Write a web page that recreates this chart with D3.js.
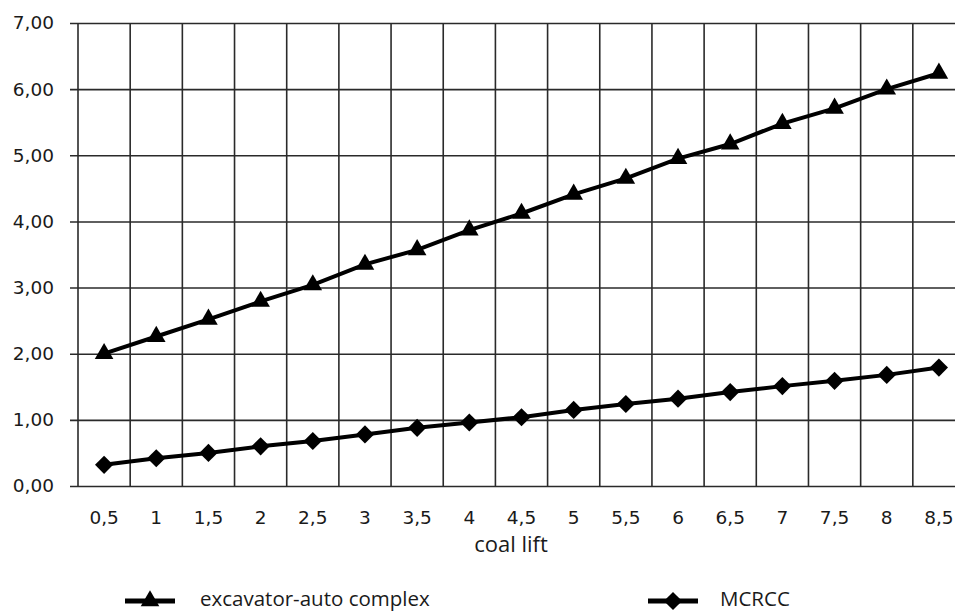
<!DOCTYPE html>
<html>
<head>
<meta charset="utf-8">
<script src="https://cdn.jsdelivr.net/npm/d3@7/dist/d3.min.js"></script>
<style>
html,body{margin:0;padding:0;background:#fff;overflow:hidden;}
svg{display:block;}
</style>
</head>
<body>
<svg id="chart" width="955" height="613"></svg>
<script>
const categories = ["0,5","1","1,5","2","2,5","3","3,5","4","4,5","5","5,5","6","6,5","7","7,5","8","8,5"];
const excavatorAuto = [2.00,2.26,2.52,2.79,3.04,3.35,3.57,3.87,4.12,4.41,4.65,4.95,5.17,5.48,5.71,6.00,6.24];
const mcrcc = [0.32,0.42,0.50,0.60,0.68,0.78,0.88,0.96,1.04,1.15,1.24,1.32,1.42,1.51,1.59,1.68,1.79];
const yTicks = [0,1,2,3,4,5,6,7];
const seriesNames = ["excavator-auto complex","MCRCC"];
const xTitle = "coal lift";

(function(){
const svg = d3.select("#chart");
const pL = 78, pR = 965, pT = 23, pB = 486;
const x = d3.scaleBand().domain(categories).range([pL, pR]).paddingInner(0).paddingOuter(0);
const y = d3.scaleLinear().domain([0,7]).range([pB, pT]);
const cx = c => x(c) + x.bandwidth()/2;
const gridColor = "#2a2a2a";
const tickFont = "'DejaVu Sans', Verdana, sans-serif";
const textFont = "'Open Sans', Calibri, sans-serif";

// horizontal grid + y axis ticks
const yAxis = d3.axisLeft(y).tickValues(yTicks).tickSize(8).tickPadding(16)
  .tickFormat(d => d3.format(".2f")(d).replace(".", ","));
const gy = svg.append("g").attr("transform", `translate(${pL},0)`).call(yAxis);
gy.select(".domain").remove();
gy.selectAll(".tick line").attr("stroke", gridColor).attr("stroke-width", 1.6).attr("x1", -8).attr("x2", pR-pL);
gy.selectAll(".tick text").attr("font-family", tickFont).attr("font-size", 18.5).attr("fill", "#1a1a1a");

// vertical grid lines at band boundaries
const xBounds = categories.map(c => x(c)).concat([pR]);
svg.append("g").selectAll("line").data(xBounds).join("line")
  .attr("x1", d => d).attr("x2", d => d).attr("y1", pT).attr("y2", pB)
  .attr("stroke", gridColor).attr("stroke-width", 1.6);

// x axis labels
const xAxis = d3.axisBottom(x).tickSize(0).tickPadding(25);
const gx = svg.append("g").attr("transform", `translate(0,${pB})`).call(xAxis);
gx.select(".domain").remove();
gx.selectAll(".tick text").attr("font-family", tickFont).attr("font-size", 18.5).attr("fill", "#1a1a1a");

svg.append("text").attr("x", 511).attr("y", 552).attr("text-anchor", "middle")
  .attr("font-family", textFont).attr("font-size", 22).attr("fill", "#1a1a1a").text(xTitle);

// lines
const line = d3.line().x((d,i) => cx(categories[i])).y(d => y(d));
svg.append("path").datum(excavatorAuto).attr("d", line).attr("fill","none").attr("stroke","#000").attr("stroke-width",4);
svg.append("path").datum(mcrcc).attr("d", line).attr("fill","none").attr("stroke","#000").attr("stroke-width",4);

const tri = d3.symbol().type(d3.symbolTriangle).size(150);
const dia = d3.symbol().type(d3.symbolSquare).size(165);

svg.append("g").selectAll("path").data(excavatorAuto).join("path")
  .attr("d", tri).attr("fill", "#000")
  .attr("transform", (d,i) => `translate(${cx(categories[i])},${y(d)})`);
svg.append("g").selectAll("path").data(mcrcc).join("path")
  .attr("d", dia).attr("fill", "#000")
  .attr("transform", (d,i) => `translate(${cx(categories[i])},${y(d)}) rotate(45)`);

// legend
const legend = [
  {name: seriesNames[0], x1: 125, sym: tri, rot: 0, tx: 200},
  {name: seriesNames[1], x1: 648, sym: dia, rot: 45, tx: 720}
];
const ly = 601;
legend.forEach(l => {
  svg.append("line").attr("x1", l.x1).attr("x2", l.x1+50).attr("y1", ly).attr("y2", ly)
    .attr("stroke", "#000").attr("stroke-width", 5);
  svg.append("path").attr("d", l.sym).attr("fill","#000")
    .attr("transform", `translate(${l.x1+25},${ly}) rotate(${l.rot})`);
  svg.append("text").attr("x", l.tx).attr("y", 606)
    .attr("font-family", textFont).attr("font-size", 20.5).attr("fill", "#1a1a1a").text(l.name);
});
})();
</script>
</body>
</html>
